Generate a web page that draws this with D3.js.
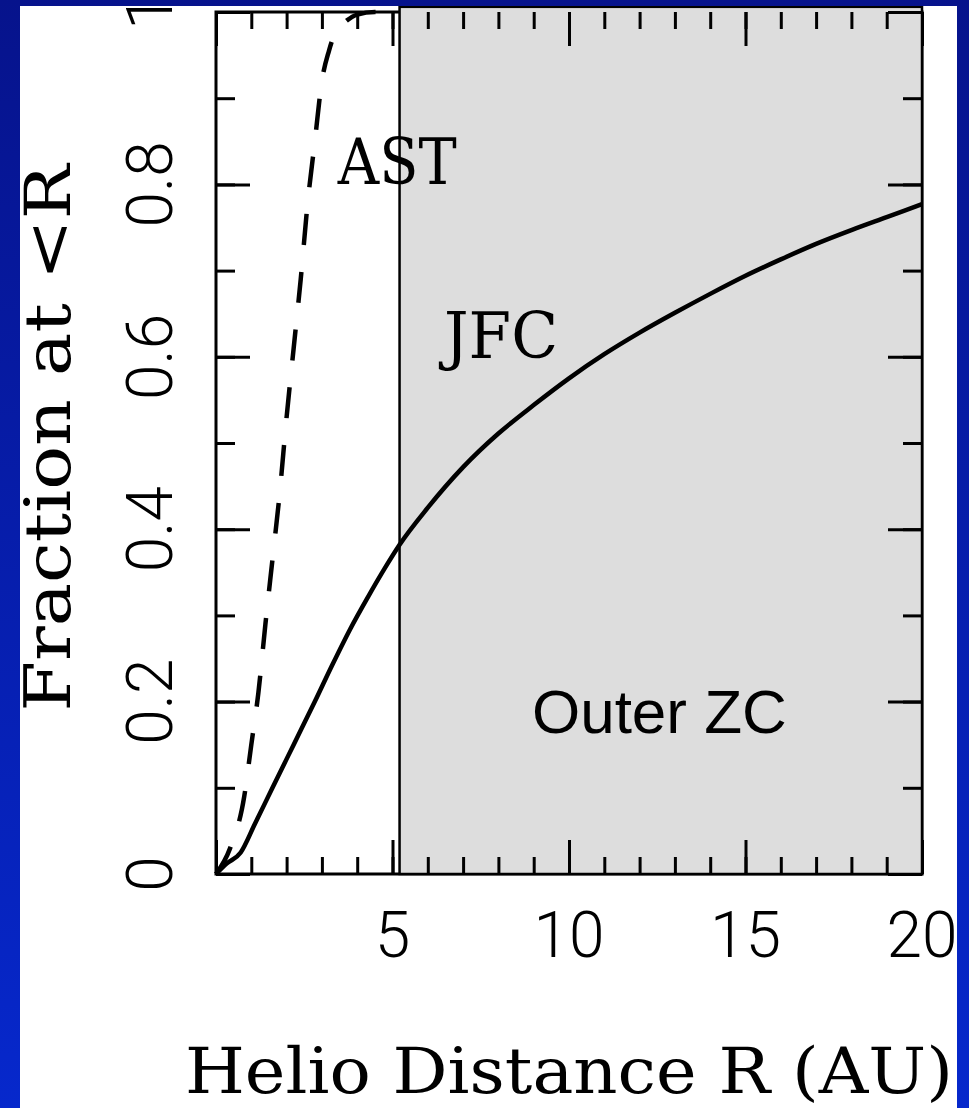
<!DOCTYPE html>
<html>
<head>
<meta charset="utf-8">
<script src="https://cdn.jsdelivr.net/npm/d3@7"></script>
<style>
  body { margin: 0; background: #0a1c9c; }
  svg { display: block; }
  .tick-label { font-family: Roboto, "Liberation Sans", Arial, sans-serif; font-weight: 300; font-size: 64px; fill: #000; }
  .serif-label { font-family: "DejaVu Serif", serif; font-size: 63px; fill: #000; }
  .zone-label { font-family: "Liberation Sans", Arial, sans-serif; font-size: 62px; fill: #000; }
</style>
</head>
<body>
<div id="vis"></div>
<script>
// asteroids (dashed curve): cumulative fraction at distance < R
const astR = [0, 0.4, 0.8, 1.0, 1.2, 1.4, 1.6, 1.8, 2.0, 2.2, 2.4, 2.6, 2.8, 3.0, 3.2, 3.4, 3.7, 4.0, 4.5, 5.2];
const astF = [0, 0.03, 0.09, 0.15, 0.21, 0.29, 0.365, 0.44, 0.53, 0.61, 0.69, 0.78, 0.85, 0.92, 0.955, 0.978, 0.99, 0.997, 1.0, 1.0];

// Jupiter family comets (solid curve)
const jfcR = [0, 0.3, 0.7, 1.1, 1.6, 2.2, 2.8, 3.3, 3.8, 4.3, 4.8, 5.2, 6, 7, 8, 9, 10, 11, 12, 13, 14, 15, 16, 17, 18, 19, 20];
const jfcF = [0, 0.012, 0.025, 0.058, 0.10, 0.150, 0.200, 0.243, 0.284, 0.321, 0.356, 0.382, 0.425, 0.472, 0.511, 0.544, 0.575, 0.603, 0.628, 0.651, 0.673, 0.694, 0.713, 0.731, 0.747, 0.762, 0.777];

const xTickValues = [5, 10, 15, 20];
const xTickLabels = ["5", "10", "15", "20"];
const yTickValues = [0, 0.2, 0.4, 0.6, 0.8, 1];
const yTickLabels = ["0", "0.2", "0.4", "0.6", "0.8", "1"];

// outer zone starts at Jupiter's orbit
const jupiterR = 5.2;
const shadeTop = 1.006;

const W = 969, H = 1108;
const margin = { top: 12, right: 47, bottom: 234, left: 216 };
const width = W - margin.left - margin.right;
const height = H - margin.top - margin.bottom;

const root = d3.select("#vis").append("svg")
    .attr("width", W)
    .attr("height", H);

const defs = root.append("defs");
const grad = defs.append("linearGradient")
    .attr("id", "bg")
    .attr("x1", 0).attr("y1", 0).attr("x2", 0).attr("y2", 1);
grad.append("stop").attr("offset", "0%").attr("stop-color", "#06138c");
grad.append("stop").attr("offset", "100%").attr("stop-color", "#0628cc");

defs.append("clipPath").attr("id", "panel")
    .append("rect")
    .attr("x", 20).attr("y", 6)
    .attr("width", 937).attr("height", H - 6);

root.append("rect")
    .attr("width", W).attr("height", H)
    .attr("fill", "url(#bg)");

const page = root.append("g").attr("clip-path", "url(#panel)");
page.append("rect")
    .attr("x", 20).attr("y", 6)
    .attr("width", 937).attr("height", H - 6)
    .attr("fill", "#fff");

const svg = page.append("g")
    .attr("transform", `translate(${margin.left},${margin.top})`);

const x = d3.scaleLinear().domain([0, 20]).range([0, width]);
const y = d3.scaleLinear().domain([0, 1]).range([height, 0]);

// frame
svg.append("rect")
    .attr("x", x(0)).attr("y", y(1))
    .attr("width", x(20) - x(0)).attr("height", y(0) - y(1))
    .attr("fill", "none")
    .attr("stroke", "#000")
    .attr("stroke-width", 3);

// shaded outer zone
svg.append("rect")
    .attr("x", x(jupiterR))
    .attr("y", y(shadeTop))
    .attr("width", x(20) - x(jupiterR))
    .attr("height", y(0) - y(shadeTop))
    .attr("fill", "#dddddd")
    .attr("stroke", "#000")
    .attr("stroke-width", 2.5);

// ticks on all four sides, pointing inward
function tickAxis(axis, values, size, transform) {
    const g = svg.append("g")
        .attr("transform", transform)
        .call(axis.tickValues(values).tickSize(-size).tickSizeOuter(0).tickFormat(""));
    g.select(".domain").remove();
    g.selectAll("line").attr("stroke", "#000").attr("stroke-width", 3);
}
const minorX = d3.range(0, 21, 1), majorX = d3.range(0, 21, 5);
const minorY = d3.range(0, 11, 1).map(d => d / 10), majorY = d3.range(0, 6, 1).map(d => d / 5);

tickAxis(d3.axisBottom(x), minorX, 17, `translate(0,${height})`);
tickAxis(d3.axisBottom(x), majorX, 34, `translate(0,${height})`);
tickAxis(d3.axisTop(x), minorX, 17, "translate(0,0)");
tickAxis(d3.axisTop(x), majorX, 34, "translate(0,0)");
tickAxis(d3.axisLeft(y), minorY, 19, "translate(0,0)");
tickAxis(d3.axisLeft(y), majorY, 34, "translate(0,0)");
tickAxis(d3.axisRight(y), minorY, 19, `translate(${width},0)`);
tickAxis(d3.axisRight(y), majorY, 34, `translate(${width},0)`);

// curves
const line = d3.line()
    .x(d => x(d[0]))
    .y(d => y(d[1]))
    .curve(d3.curveMonotoneX);

svg.append("path")
    .datum(jfcR.map((r, i) => [r, jfcF[i]]))
    .attr("d", line)
    .attr("fill", "none")
    .attr("stroke", "#000")
    .attr("stroke-width", 4.5);

svg.append("path")
    .datum(astR.map((r, i) => [r, astF[i]]))
    .attr("d", line)
    .attr("fill", "none")
    .attr("stroke", "#000")
    .attr("stroke-width", 4.5)
    .attr("stroke-dasharray", "31,27");

// tick labels
svg.selectAll(".x-label")
    .data(xTickValues)
    .enter().append("text")
    .attr("class", "tick-label x-label")
    .attr("x", d => x(d))
    .attr("y", height + 83)
    .attr("text-anchor", "middle")
    .text((d, i) => xTickLabels[i]);

svg.selectAll(".y-label")
    .data(yTickValues)
    .enter().append("text")
    .attr("class", "tick-label y-label")
    .attr("transform", d => `translate(-44,${y(d)}) rotate(-90)`)
    .attr("text-anchor", "middle")
    .text((d, i) => yTickLabels[i]);

// curve labels
svg.append("text")
    .attr("class", "serif-label")
    .attr("x", x(3.45)).attr("y", y(0.80))
    .attr("textLength", 119).attr("lengthAdjust", "spacingAndGlyphs")
    .text("AST");

svg.append("text")
    .attr("class", "serif-label")
    .attr("x", x(6.46)).attr("y", y(0.599))
    .attr("textLength", 114).attr("lengthAdjust", "spacingAndGlyphs")
    .text("JFC");

svg.append("text")
    .attr("class", "zone-label")
    .attr("x", x(8.95)).attr("y", y(0.164))
    .text("Outer ZC");

// axis titles
svg.append("text")
    .attr("class", "serif-label")
    .attr("x", -31).attr("y", height + 219)
    .attr("textLength", 768).attr("lengthAdjust", "spacingAndGlyphs")
    .text("Helio Distance R (AU)");

svg.append("text")
    .attr("class", "serif-label")
    .attr("transform", `translate(-146,${height / 2 - 5}) rotate(-90)`)
    .attr("text-anchor", "middle")
    .attr("textLength", 547).attr("lengthAdjust", "spacingAndGlyphs")
    .text("Fraction at <R");
</script>
</body>
</html>
